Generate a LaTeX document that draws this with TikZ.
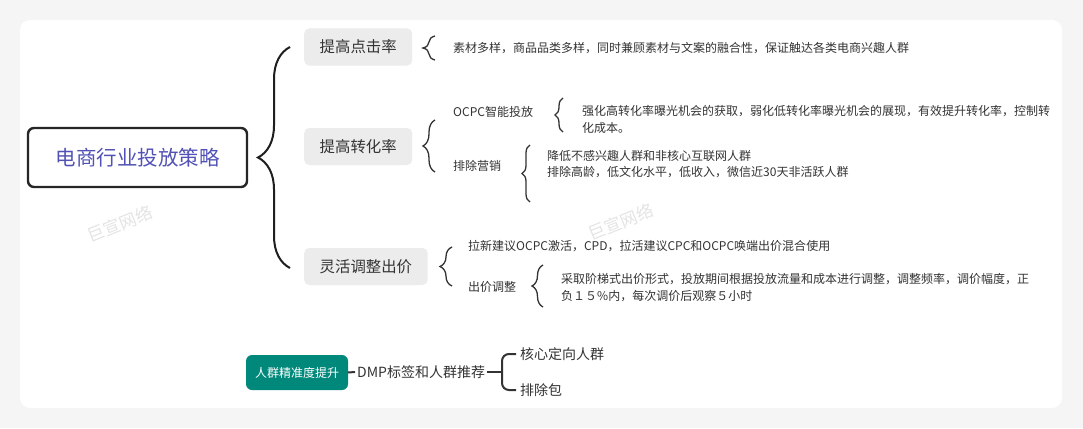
\documentclass[tikz,border=0pt]{standalone}
\usepackage{fontspec}
\setmainfont{Noto Sans CJK SC}
\usetikzlibrary{decorations.pathreplacing,calc}
\definecolor{txt}{HTML}{333333}
\definecolor{ttl}{RGB}{82,82,182}
\definecolor{lvl}{HTML}{ECECEC}
\definecolor{tealbox}{RGB}{0,136,122}
\definecolor{pagebg}{HTML}{F5F5F5}
\definecolor{wm}{HTML}{E4E4E4}
\tikzset{
  mainbox/.style={draw=black!85, line width=2.4pt, rounded corners=6pt, fill=white,
    minimum width=219pt, minimum height=59pt, text=ttl, font=\fontsize{20.5}{24}\selectfont},
  lvlbox/.style={fill=lvl, rounded corners=5pt, minimum height=37pt, inner xsep=15.5pt,
    text=txt, font=\fontsize{15.4}{18}\selectfont},
  leaf/.style={anchor=west, inner sep=0pt, text=txt, align=left, font=\fontsize{12}{16.5}\selectfont},
  bigleaf/.style={anchor=west, inner xsep=4pt, inner ysep=0pt, text=txt, font=\fontsize{14}{17}\selectfont},
  tealnode/.style={fill=tealbox, rounded corners=6pt, minimum width=102pt, minimum height=35pt,
    text=white, font=\fontsize{12}{14}\selectfont},
  bigbrace/.style={draw=black!88, line width=2pt, decorate, decoration={brace, amplitude=32pt, aspect=0.5}},
  smallbrace/.style={draw=txt, line width=1.3pt, decorate, decoration={brace, amplitude=#1, aspect=0.5}},
  forkline/.style={draw=black!80, line width=2pt},
  watermark/.style={text=wm, rotate=22, inner sep=0pt, font=\fontsize{17}{20}\selectfont}
}
\begin{document}
\begin{tikzpicture}[x=1pt,y=-1pt]
\useasboundingbox (0,0) rectangle (1083,428);
\fill[pagebg] (0,0) rectangle (1083,428);
\fill[black!4, rounded corners=12pt] (19,21) rectangle (1064,411);
\fill[white, rounded corners=10pt] (20,20) rectangle (1062,408);

% watermarks
\node[watermark] (wm1) at (120,224) {巨宣网络};
\node[watermark] (wm2) at (621,222) {巨宣网络};

% main
\node[mainbox] (main) at (137.5,157.5) {电商行业投放策略};

% level 1
\node[lvlbox, anchor=west] (t1) at (304,47) {提高点击率};
\node[lvlbox, anchor=west] (t2) at (304,146.5) {提高转化率};
\node[lvlbox, anchor=west] (t3) at (304,266.5) {灵活调整出价};

\coordinate (B0s) at (290,268);
\coordinate (B0e) at (290,47);
\draw[bigbrace] (B0s) -- (B0e);

% branch 1
\node[leaf] (c1) at (453,48) {素材多样，商品品类多样，同时兼顾素材与文案的融合性，保证触达各类电商兴趣人群};
\coordinate (B1s) at (435,60);
\coordinate (B1e) at (435,36);
\draw[smallbrace=12pt] (B1s) -- (B1e);

% branch 2
\coordinate (B2s) at (435,172);
\coordinate (B2e) at (435,120);
\draw[smallbrace=12pt] (B2s) -- (B2e);
\node[leaf] (o1) at (453,112) {OCPC智能投放};
\node[leaf] (o1d) at (582,119.5) {强化高转化率曝光机会的获取，弱化低转化率曝光机会的展现，有效提升转化率，控制转\\化成本。};
\coordinate (B3s) at (563,132);
\coordinate (B3e) at (563,98);
\draw[smallbrace=8pt] (B3s) -- (B3e);
\node[leaf] (p1) at (453,166) {排除营销};
\node[leaf] (p1d) at (547,164) {降低不感兴趣人群和非核心互联网人群\\排除高龄，低文化水平，低收入，微信近30天非活跃人群};
\coordinate (B4s) at (530,202);
\coordinate (B4e) at (530,145);
\draw[smallbrace=8pt] (B4s) -- (B4e);

% branch 3
\coordinate (B5s) at (452,286);
\coordinate (B5e) at (452,247);
\draw[smallbrace=12pt] (B5s) -- (B5e);
\node[leaf] (l1) at (468,246) {拉新建议OCPC激活，CPD，拉活建议CPC和OCPC唤端出价混合使用};
\node[leaf] (a1) at (468,287) {出价调整};
\node[leaf] (a1d) at (561,287.5) {采取阶梯式出价形式，投放期间根据投放流量和成本进行调整，调整频率，调价幅度，正\\负１５\%内，每次调价后观察５小时};
\coordinate (B6s) at (543,307);
\coordinate (B6e) at (543,265);
\draw[smallbrace=11pt] (B6s) -- (B6e);

% bottom
\node[tealnode] (r) at (297,372.5) {人群精准度提升};
\node[bigleaf, anchor=west, inner xsep=2pt] (d) at (355,372) {DMP标签和人群推荐};
\draw[forkline] (r.east) -- (d.west);
\node[bigleaf] (k1) at (516,354) {核心定向人群};
\node[bigleaf] (k2) at (516,390) {排除包};
\coordinate (f) at (502,372);
\draw[forkline] (d.east) -- (f);
\draw[forkline, rounded corners=7pt] (k1.west) -| (f) |- (k2.west);
\end{tikzpicture}
\end{document}
